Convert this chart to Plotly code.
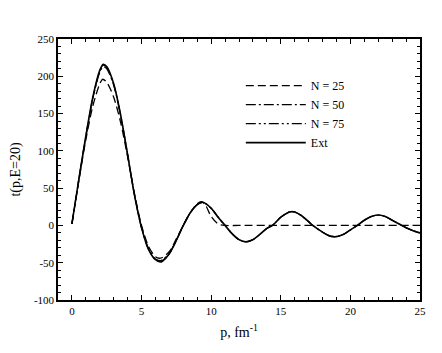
import plotly.graph_objects as go

# momentum grid (fm^-1) and curve values
p_ext = [0, 0.5, 1, 1.5, 2, 2.25, 2.5, 3, 3.5, 4, 4.5, 5, 5.5, 6, 6.35, 6.5, 7, 7.5, 8,
         8.5, 9, 9.4, 10, 10.5, 11, 11.5, 12, 12.5, 13, 13.5, 14, 14.4, 15, 15.5, 15.75,
         16, 16.5, 17, 17.3, 18, 18.5, 19, 19.5, 20, 20.5, 21, 21.5, 22, 22.5, 23, 23.5,
         23.7, 24, 24.5, 25]
t_ext = [2, 62, 120, 172, 208, 216, 213, 190, 148, 95, 40, -3, -32, -46, -49, -48, -38, -20, 0,
         17, 28, 31, 23, 11, 0, -11, -19, -22, -19, -12, -4, 0, 11, 17, 18.4,
         18, 13, 5, 0, -9, -14, -15, -12, -6, 0, 7, 12, 14, 12, 7, 2,
         0, -3, -7, -10]
t_n75 = [2, 62, 120, 171, 207, 215, 212, 189, 148, 95, 40, -3, -32, -46, -48, -47, -38, -20, 0,
         17, 28, 31, 23, 11, 0, -11, -19, -22, -19, -12, -4, 0, 11, 17, 18.4,
         18, 13, 5, 0, -9, -14, -15, -12, -6, 0, 7, 12, 14, 12, 7, 2,
         0, -3, -7, -10]
t_n50 = [2, 62, 119, 170, 205, 213, 210, 188, 147, 95, 40, -3, -31, -45, -47, -46, -37, -20, 0,
         17, 28, 31, 23, 11, 0, -11, -19, -22, -19, -12, -4, 0, 11, 17, 18.4,
         18, 13, 5, 0, -9, -14, -15, -12, -6, 0, 7, 12, 14, 12, 7, 2,
         0, -3, -7, -10]

p_n25 = [0, 0.5, 1, 1.5, 2, 2.2, 2.5, 3, 3.5, 4, 4.5, 5, 5.5, 6, 6.3, 6.5, 7, 7.5, 8,
         8.5, 9, 9.3, 9.6, 10, 10.5, 11, 12, 15, 20, 25]
t_n25 = [2, 60, 115, 160, 190, 196, 192, 172, 138, 92, 42, 0, -28, -42, -44, -43, -35, -18, 0,
         17, 29, 32, 27, 12, 2, 0, 0, 0, 0, 0]

x_ticks = [0, 5, 10, 15, 20, 25]
y_ticks = [-100, -50, 0, 50, 100, 150, 200, 250]
y_tick_text = ["-100", "-50", "0", "50", "100", "150", "200", "250"]

series = [
    ("N = 25", p_n25, t_n25, "8px,4px", 1.3),
    ("N = 50", p_ext, t_n50, "10px,3px,2px,3px", 1.2),
    ("N = 75", p_ext, t_n75, "10px,3px,2px,3px,2px,3px", 1.2),
    ("Ext", p_ext, t_ext, "solid", 1.6),
]

fig = go.Figure()
for name, x, y, dash, w in series:
    fig.add_trace(go.Scatter(
        x=x, y=y, name=name, mode="lines",
        line=dict(color="black", width=w, dash=dash, shape="spline", smoothing=0.8),
    ))

serif = "Liberation Serif"
axis_common = dict(
    showline=True, linecolor="black", linewidth=1.5, mirror="allticks",
    ticks="inside", ticklen=5, tickwidth=1, tickcolor="black",
    showgrid=False, zeroline=False, automargin=False,
    tickfont=dict(family=serif, size=11, color="black"),
)

fig.update_xaxes(
    range=[-1, 25], tickvals=x_ticks,
    minor=dict(ticks="inside", ticklen=3, dtick=1, tick0=0, tickcolor="black", showgrid=False),
    title=dict(text="p, fm<sup>-1</sup>", font=dict(family=serif, size=14, color="black"),
               standoff=11),
    **axis_common,
)
fig.update_yaxes(
    range=[-100, 250], tickvals=y_ticks, ticktext=y_tick_text,
    minor=dict(ticks="inside", ticklen=3, dtick=10, tick0=0, tickcolor="black", showgrid=False),
    title=dict(text="t(p,E=20)", font=dict(family=serif, size=14, color="black"),
               standoff=19),
    **axis_common,
)

# the page body adds an 8px offset, so the figure is sized to fit what remains
fig.update_layout(
    width=434, height=345,
    plot_bgcolor="white", paper_bgcolor="white",
    margin=dict(l=50, r=22, t=31, b=53),
    showlegend=True,
    legend=dict(
        x=0.505, y=0.877, xanchor="left", yanchor="top",
        bgcolor="rgba(0,0,0,0)", borderwidth=0,
        font=dict(family=serif, size=12, color="black"),
        itemwidth=60, tracegroupgap=0,
    ),
)

fig.write_html("out.html")
